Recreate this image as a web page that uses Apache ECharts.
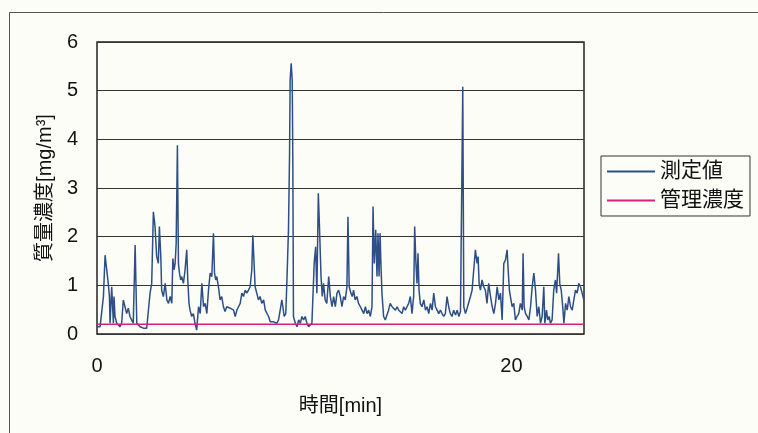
<!DOCTYPE html>
<html>
<head>
<meta charset="utf-8">
<script src="https://cdn.jsdelivr.net/npm/echarts@6/dist/echarts.min.js"></script>
<style>
html,body{margin:0;padding:0;background:#fdfdf8;}
#c{width:758px;height:433px;}
</style>
</head>
<body>
<div id="c"></div>
<script>
// time [min]
const timeMin = [0,0.15,0.31,0.39,0.47,0.55,0.60,0.63,0.71,0.79,0.82,0.87,0.95,1.03,1.11,1.19,1.27,1.35,1.43,1.51,1.59,1.67,1.75,1.84,1.92,2.00,2.08,2.16,2.24,2.32,2.40,2.48,2.56,2.64,2.72,2.80,2.88,2.96,3.01,3.08,3.12,3.20,3.29,3.37,3.45,3.53,3.61,3.66,3.72,3.77,3.82,3.88,3.93,3.98,4.04,4.09,4.17,4.25,4.33,4.38,4.44,4.49,4.57,4.65,4.73,4.81,4.90,4.98,5.06,5.14,5.22,5.30,5.38,5.46,5.54,5.62,5.67,5.73,5.78,5.86,5.94,6.02,6.10,6.18,6.26,6.34,6.43,6.51,6.59,6.67,6.75,6.83,6.91,6.99,7.07,7.15,7.23,7.31,7.39,7.47,7.52,7.58,7.63,7.71,7.79,7.87,7.95,8.04,8.12,8.20,8.28,8.36,8.44,8.52,8.60,8.68,8.76,8.84,8.92,8.97,9.03,9.11,9.16,9.24,9.29,9.32,9.37,9.42,9.45,9.48,9.57,9.65,9.73,9.81,9.89,9.97,10.05,10.13,10.21,10.29,10.37,10.42,10.48,10.55,10.61,10.68,10.74,10.81,10.87,10.93,11.01,11.09,11.18,11.26,11.34,11.42,11.50,11.58,11.66,11.74,11.82,11.90,11.98,12.06,12.11,12.17,12.25,12.32,12.38,12.46,12.54,12.62,12.71,12.79,12.87,12.95,13.03,13.11,13.19,13.27,13.32,13.38,13.45,13.51,13.56,13.61,13.66,13.70,13.75,13.83,13.91,13.99,14.07,14.15,14.24,14.32,14.40,14.48,14.56,14.64,14.72,14.80,14.88,14.96,15.04,15.12,15.20,15.28,15.33,15.39,15.44,15.49,15.54,15.60,15.68,15.77,15.85,15.93,16.01,16.09,16.17,16.25,16.33,16.41,16.49,16.57,16.65,16.73,16.81,16.89,16.97,17.05,17.13,17.21,17.30,17.38,17.46,17.54,17.60,17.65,17.70,17.78,17.86,17.94,18.02,18.10,18.18,18.26,18.34,18.39,18.44,18.50,18.58,18.66,18.74,18.82,18.90,18.99,19.07,19.15,19.23,19.31,19.39,19.47,19.55,19.63,19.71,19.79,19.84,19.90,19.95,20.03,20.11,20.19,20.27,20.35,20.43,20.52,20.56,20.61,20.68,20.76,20.84,20.92,21.00,21.08,21.16,21.24,21.32,21.40,21.48,21.56,21.61,21.69,21.75,21.82,21.88,21.96,22.04,22.12,22.18,22.27,22.33,22.40,22.46,22.53,22.61,22.69,22.77,22.85,22.93,23.01,23.09,23.17,23.25,23.33,23.41,23.49];
// 測定値 [mg/m3]
const measured = [0.15,0.15,0.77,1.62,1.59,1.01,0.77,0.22,0.97,0.22,0.77,0.36,0.22,0.18,0.15,0.22,0.70,0.56,0.42,0.53,0.36,0.29,0.22,1.83,0.22,0.18,0.15,0.18,0.12,0.15,0.12,0.15,0.84,1.04,2.51,2.21,1.59,1.45,2.21,1.59,0.90,0.77,1.04,0.70,0.63,0.77,0.63,1.55,1.32,1.45,1.86,3.88,1.45,1.25,1.11,1.18,1.04,1.32,1.73,1.11,0.63,0.49,0.36,0.42,0.22,0.08,0.56,0.42,1.04,0.56,0.63,0.42,0.90,1.25,1.18,2.07,1.25,1.11,1.18,0.97,0.70,0.77,0.56,0.46,0.56,0.56,0.53,0.56,0.49,0.36,0.49,0.56,0.63,0.84,0.77,0.90,0.84,0.90,0.97,1.32,2.03,1.45,0.97,0.84,0.70,0.77,0.63,0.70,0.49,0.49,0.36,0.25,0.22,0.25,0.29,0.22,0.29,0.49,0.70,0.56,0.36,0.42,1.04,2.14,3.64,5.22,5.56,5.22,3.51,0.36,0.22,0.15,0.29,0.22,0.36,0.29,0.36,0.22,0.15,0.18,0.22,0.22,1.45,1.79,0.84,2.89,2.14,1.18,0.77,1.04,0.70,0.63,1.18,0.77,0.56,0.77,0.56,0.84,0.90,0.77,0.56,0.77,0.70,0.97,2.41,0.97,0.84,0.77,0.90,0.70,0.77,0.63,0.56,0.49,0.42,0.56,0.42,0.49,0.36,0.56,2.62,1.45,2.14,1.18,2.07,1.18,2.07,1.45,0.84,0.36,0.29,0.29,0.49,0.63,0.56,0.56,0.49,0.56,0.49,0.49,0.42,0.56,0.49,0.56,0.63,0.77,0.42,0.77,2.21,1.45,1.04,1.66,0.90,0.63,0.56,0.70,0.49,0.56,0.42,0.63,0.49,0.84,0.56,0.49,0.42,0.49,0.42,0.36,0.42,0.77,0.56,0.42,0.36,0.49,0.39,0.49,0.36,0.46,0.49,5.08,0.56,0.42,0.53,0.49,0.77,0.90,1.32,1.73,1.45,1.59,1.04,0.90,1.11,0.97,0.90,0.63,1.04,0.77,0.56,0.42,0.63,0.97,0.70,0.84,0.29,1.45,1.52,1.73,1.32,0.90,0.77,0.56,0.63,0.29,0.36,0.42,0.63,0.49,1.66,0.56,0.42,0.36,0.29,0.56,0.97,1.25,0.90,0.36,0.56,0.22,0.36,0.97,0.22,0.49,0.29,0.36,0.22,0.29,0.90,1.11,0.84,1.66,1.04,0.90,0.63,0.22,0.63,0.49,0.77,0.56,0.49,0.70,0.90,0.84,1.04,0.97,0.84,0.70];
// 管理濃度 [mg/m3]
const controlTime = [0, 23.5];
const controlValue = [0.2, 0.2];
// axis
const xTicks = [0, 20];
const yTicks = [0, 1, 2, 3, 4, 5, 6];

const FONT = '"Liberation Sans", "Noto Sans CJK JP", sans-serif';
const chart = echarts.init(document.getElementById('c'));
chart.setOption({
  backgroundColor: '#fdfdf8',
  animation: false,
  graphic: [
    {type: 'line', shape: {x1: 9.5, y1: 12.5, x2: 758, y2: 12.5}, style: {stroke: '#555', lineWidth: 1}},
    {type: 'line', shape: {x1: 9.5, y1: 12.5, x2: 9.5, y2: 433}, style: {stroke: '#555', lineWidth: 1}}
  ],
  grid: {left: 97, top: 42, right: 174, bottom: 99, show: true, borderColor: '#222', borderWidth: 1.5, backgroundColor: 'transparent'},
  legend: {
    orient: 'vertical', left: 601, top: 156,
    backgroundColor: '#fdfdf8',
    borderColor: '#333', borderWidth: 1,
    padding: [5, 6, 5, 6], itemGap: 8,
    itemWidth: 48, itemHeight: 2,
    textStyle: {fontSize: 21, color: '#111', fontFamily: FONT},
    data: [{name: '測定値', icon: 'rect'}, {name: '管理濃度', icon: 'rect'}]
  },
  xAxis: {
    type: 'value', min: 0, max: 23.5, interval: 20,
    name: '時間[min]', nameLocation: 'middle', nameGap: 62,
    nameTextStyle: {fontSize: 20, color: '#111', fontFamily: FONT},
    axisLine: {show: false}, axisTick: {show: false}, splitLine: {show: false},
    axisLabel: {fontSize: 20, color: '#111', fontFamily: FONT, margin: 22,
      formatter: v => (xTicks.indexOf(v) >= 0 ? String(v) : '')}
  },
  yAxis: {
    type: 'value', min: 0, max: 6, interval: 1,
    name: '質量濃度[mg/m³]', nameLocation: 'middle', nameGap: 42,
    nameTextStyle: {fontSize: 20, color: '#111', fontFamily: FONT},
    axisLine: {show: false}, axisTick: {show: false},
    splitLine: {lineStyle: {color: '#333', width: 1}},
    axisLabel: {fontSize: 20, color: '#111', fontFamily: FONT, margin: 19,
      formatter: v => (yTicks.indexOf(v) >= 0 ? String(v) : '')}
  },
  series: [
    {name: '測定値', type: 'line', showSymbol: false, symbol: 'none',
     lineStyle: {color: '#2d4f86', width: 1.5}, itemStyle: {color: '#2d4f86'},
     data: timeMin.map((t, i) => [t, measured[i]])},
    {name: '管理濃度', type: 'line', showSymbol: false, symbol: 'none',
     lineStyle: {color: '#d6217f', width: 1.5}, itemStyle: {color: '#d6217f'},
     data: controlTime.map((t, i) => [t, controlValue[i]])}
  ]
});
</script>
</body>
</html>
